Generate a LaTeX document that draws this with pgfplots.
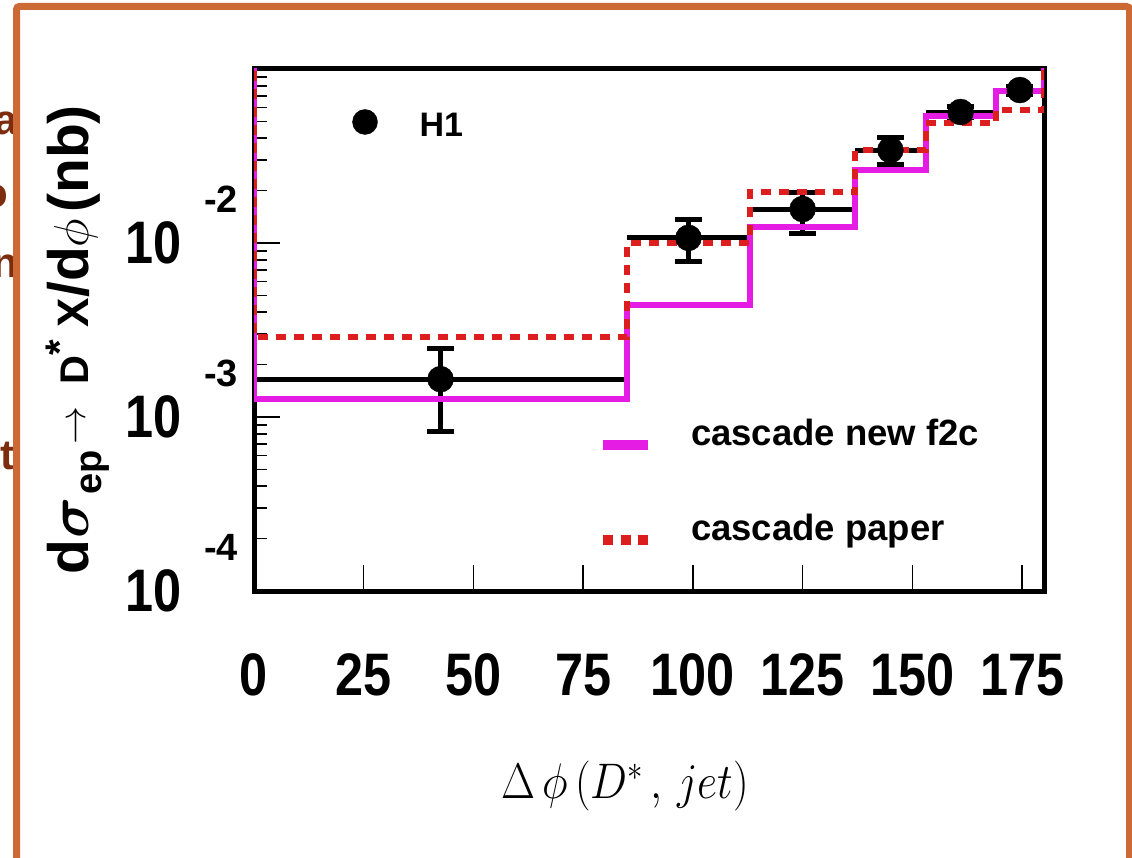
\RequirePackage{fix-cm}
\documentclass[border=0pt]{standalone}
\usepackage{pgfplots}
\pgfplotsset{compat=1.18}
\usepackage{pgfplotstable}
\usepackage{graphicx}
\usepackage{fontspec}
\setmainfont{Liberation Sans}
\definecolor{framec}{RGB}{205,105,52}
\definecolor{fragc}{RGB}{125,45,15}
\definecolor{magc}{RGB}{228,28,228}
\definecolor{redc}{RGB}{220,30,30}
\newcommand\sq[1]{\scalebox{0.84}[1]{\fontsize{60}{60}\selectfont\bfseries #1}}
\newcommand\ylab[1]{\sq{10}\hspace{22pt}\smash{\raisebox{51pt}{\fontsize{38}{38}\selectfont\bfseries -#1}}}

\pgfplotstableread{
x y ex eyp eym
42.5 1.65e-3 42.5 0.84e-3 0.83e-3
99 0.0107 14 0.0030 0.0029
125 0.01567 12 0.0039 0.0043
145 0.0342 8 0.0062 0.0061
161 0.0566 8 0.004 0.004
174.5 0.0757 5.5 0.004 0.004
}\hone

\begin{document}
\begin{tikzpicture}
\useasboundingbox (0pt,0pt) rectangle (1132pt,858pt);
\clip (0pt,0pt) rectangle (1132pt,858pt);
\fill[white] (0pt,0pt) rectangle (1132pt,858pt);
\begin{scope}[every node/.style={font=\fontsize{42}{42}\selectfont\bfseries, text=fragc, inner sep=0pt}]
\node[anchor=base east] at (18pt,723pt) {a};
\node[anchor=base east] at (8pt,650pt) {o};
\node[anchor=base east] at (18pt,580pt) {n};
\node[anchor=base east] at (15pt,388pt) {t};
\end{scope}
\draw[framec, line width=7pt, rounded corners=3pt] (16.5pt,-20pt) -- (16.5pt,851.5pt) -- (1129.5pt,851.5pt) -- (1129.5pt,-20pt);

\begin{axis}[
  at={(254pt,267pt)}, anchor=south west, scale only axis,
  width=790pt, height=522pt,
  xmin=0, xmax=180, ymode=log, ymin=1e-4, ymax=0.1,
  axis line style={line width=5pt, black},
  tick align=inside, xtick pos=bottom, ytick pos=left,
  major tick length=26pt, minor tick length=13pt,
  tick style={line width=1.5pt, black},
  xtick={0,25,50,75,100,125,150,175},
  xticklabels={\sq{0},\sq{25},\sq{50},\sq{75},\sq{100},\sq{125},\sq{150},\sq{175}},
  xticklabel style={anchor=center, yshift=-84pt, inner sep=0pt},
  ytick={1e-4,1e-3,1e-2},
  yticklabels={\ylab{4},\ylab{3},\ylab{2}},
  yticklabel style={anchor=east, xshift=-16pt, inner sep=0pt},
  minor ytick={2e-4,3e-4,4e-4,5e-4,6e-4,7e-4,8e-4,9e-4,2e-3,3e-3,4e-3,5e-3,6e-3,7e-3,8e-3,9e-3,2e-2,3e-2,4e-2,5e-2,6e-2,7e-2,8e-2,9e-2},
  legend style={at={(0.1247,0.9205)}, anchor=north west, draw=none, fill=none, inner sep=0pt, outer sep=0pt, column sep=42pt, font=\fontsize{34}{34}\selectfont\bfseries, cells={anchor=base west}, nodes={inner sep=0pt, text height=26pt, text depth=0pt}},
  legend image code/.code={\pgfpathrectangle{\pgfpointorigin}{\pgfpoint{25pt}{0pt}}\pgfusepath{use as bounding box}\draw[#1] plot coordinates {(12.5pt,14.5pt)};},
]
\addlegendimage{only marks, mark=*, mark size=12.5pt, black}
\addlegendentry{H1}
\addplot[black, only marks, mark=none, forget plot, error bars/.cd, x dir=both, x explicit, error mark=none, error bar style={line width=5pt, black}] table[x=x, y=y, x error=ex]{\hone};
\addplot[black, only marks, mark=*, mark size=13pt, forget plot, error bars/.cd, y dir=both, y explicit, error mark=-, error mark options={rotate=90, line width=5pt, mark size=13.5pt, black}, error bar style={line width=4.5pt, black}] table[x=x, y=y, y error plus=eyp, y error minus=eym]{\hone};
\addplot[magc, line width=6pt, const plot mark left, forget plot] coordinates {(0,0.2) (0,1.27e-3) (85,4.40e-3) (113,0.01236) (137,0.0263) (153,0.0540) (169,0.0745) (180,0.0745) (180,0.2)};
\addplot[redc, line width=6pt, dash pattern=on 10pt off 8pt, const plot mark left, forget plot] coordinates {(0,0.2) (0,2.88e-3) (85,0.0100) (113,0.0196) (137,0.0342) (153,0.0488) (169,0.0582) (180,0.0582) (180,0.2)};
\end{axis}

\begin{axis}[
  at={(254pt,267pt)}, anchor=south west, scale only axis,
  width=790pt, height=522pt,
  xmin=0, xmax=180, ymode=log, ymin=1e-4, ymax=0.1, hide axis,
  legend style={at={(0.4355,0.3295)}, anchor=north west, draw=none, fill=none, inner sep=0pt, outer sep=0pt, column sep=38pt, row sep=61pt, font=\fontsize{36.5}{36.5}\selectfont\bfseries, cells={anchor=base west}, nodes={inner sep=0pt, text height=26pt, text depth=8pt}},
  legend image code/.code={\draw[#1] (0pt,0pt) -- (45pt,0pt);},
]
\addlegendimage{magc, line width=10pt}
\addlegendentry{cascade new f2c}
\addlegendimage{redc, line width=10pt, dash pattern=on 10pt off 7.5pt}
\addlegendentry{cascade paper}
\end{axis}

\node[anchor=center] at (625pt,72pt) {\scalebox{0.88}[1]{\fontsize{50}{60}\selectfont$\Delta\,\phi\,(D^{*}\,,\,jet)$}};
\node[rotate=90, anchor=base, inner sep=0pt] at (88pt,518pt) {\fontsize{57}{57}\selectfont\bfseries d\hspace{2pt}{\boldmath$\sigma$}\hspace{2pt}\raisebox{-13pt}{\fontsize{38}{38}\selectfont ep}\hspace{6pt}{\fontsize{38}{38}\selectfont\raisebox{3pt}{$\rightarrow$}}\hspace{22pt}{\fontsize{40}{40}\selectfont D\raisebox{15pt}{*}\hspace{13pt}\fontsize{44}{44}\selectfont X}/d{\fontsize{49}{49}\selectfont$\phi$}\hspace{6pt}(nb)};
\end{tikzpicture}
\end{document}
